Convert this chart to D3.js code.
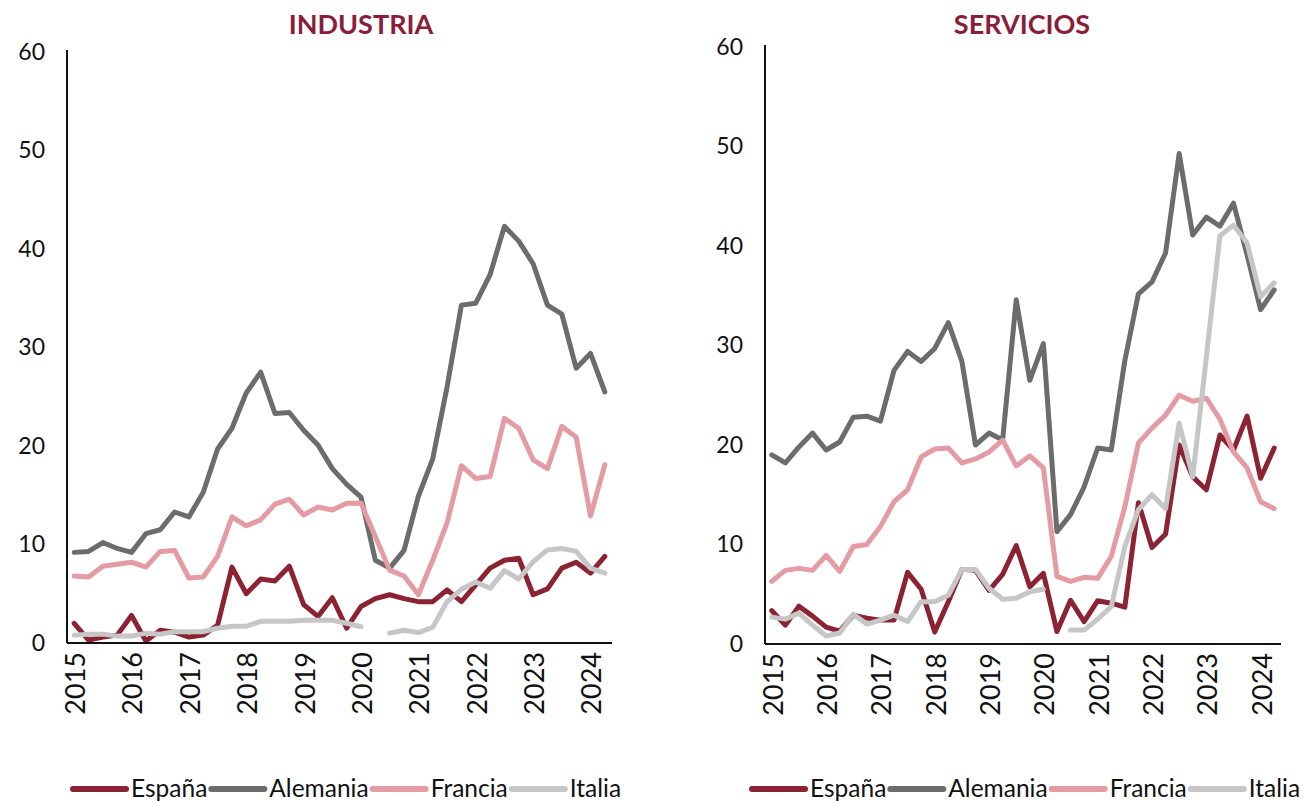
<!DOCTYPE html>
<html><head><meta charset="utf-8">
<script src="https://cdn.jsdelivr.net/npm/d3@7"></script>
<style>
body{margin:0;background:#fff;}
svg{display:block;font-family:Lato,"Open Sans",sans-serif;}
</style></head>
<body><svg id="c" width="1304" height="802"></svg>
<script>
const quarters = [];
for (let y = 2015; y <= 2024; y++) for (let q = 1; q <= 4; q++) { if (y === 2024 && q > 2) break; quarters.push(y + "Q" + q); }
const yearLabels = ["2015","2016","2017","2018","2019","2020","2021","2022","2023","2024"];
const yTicks = [0,10,20,30,40,50,60];
const countries = ["España","Alemania","Francia","Italia"];
const colors = ["#8B2332","#6B6C6B","#E59BA3","#C6C6C7"];

// INDUSTRIA
const indEspana = [2.0,0.3,0.6,0.8,2.8,0.2,1.3,1.1,0.6,0.8,1.8,7.7,5.0,6.5,6.3,7.8,3.9,2.7,4.6,1.5,3.7,4.5,4.9,4.5,4.2,4.2,5.4,4.2,5.9,7.6,8.4,8.6,4.9,5.5,7.6,8.2,7.1,8.8];
const indAlemania = [9.2,9.3,10.2,9.6,9.2,11.1,11.5,13.3,12.8,15.3,19.7,21.8,25.4,27.5,23.3,23.4,21.6,20.1,17.7,16.1,14.8,8.4,7.6,9.4,14.9,18.7,26.0,34.3,34.5,37.4,42.3,40.8,38.5,34.3,33.4,27.9,29.4,25.5];
const indFrancia = [6.8,6.7,7.8,8.0,8.2,7.7,9.3,9.4,6.6,6.7,8.8,12.8,11.9,12.5,14.1,14.6,13.0,13.8,13.5,14.2,14.2,10.8,7.4,6.8,4.9,8.4,12.2,18.0,16.7,16.9,22.8,21.8,18.6,17.7,22.0,20.9,12.9,18.1];
const indItalia = [0.8,0.9,0.9,0.7,0.7,1.0,0.9,1.15,1.15,1.15,1.5,1.7,1.7,2.2,2.2,2.2,2.3,2.3,2.3,2.0,1.65,null,1.0,1.3,1.05,1.6,4.2,5.45,6.2,5.55,7.35,6.5,8.25,9.45,9.6,9.3,7.6,7.1];

// SERVICIOS
const serEspana = [3.35,1.9,3.8,2.8,1.7,1.3,2.9,2.6,2.4,2.4,7.2,5.5,1.2,4.25,7.5,7.4,5.4,7.0,9.9,5.75,7.1,1.25,4.4,2.25,4.35,4.1,3.7,14.2,9.7,11.05,20.0,16.8,15.5,21.0,19.5,22.9,16.65,19.7];
const serAlemania = [19.0,18.2,19.8,21.2,19.5,20.3,22.8,22.9,22.4,27.5,29.4,28.4,29.7,32.3,28.4,20.0,21.2,20.5,34.6,26.5,30.2,11.3,13.0,15.8,19.7,19.5,28.5,35.2,36.4,39.3,49.3,41.1,42.9,42.0,44.3,39.1,33.6,35.6];
const serFrancia = [6.3,7.4,7.6,7.4,8.9,7.3,9.8,10.0,11.8,14.3,15.5,18.8,19.6,19.7,18.2,18.6,19.3,20.5,17.9,18.9,17.7,6.8,6.3,6.7,6.6,8.8,13.8,20.2,21.7,23.0,25.0,24.4,24.7,22.6,19.3,17.7,14.3,13.6];
const serItalia = [2.7,2.5,3.1,1.9,0.8,1.1,3.0,2.0,2.4,2.9,2.25,4.25,4.25,4.9,7.5,7.5,5.6,4.5,4.6,5.25,5.5,null,1.4,1.4,2.5,3.75,9.8,13.5,15.0,13.6,22.2,16.8,28.8,41.0,42.1,40.3,34.9,36.3];

const panels = [
  {title:"INDUSTRIA", series:[indEspana,indAlemania,indFrancia,indItalia], x0:67, x1:612, yTop:52, yBot:643, titleX:361, legendX:73},
  {title:"SERVICIOS", series:[serEspana,serAlemania,serFrancia,serItalia], x0:765, x1:1281, yTop:47, yBot:644, titleX:1022, legendX:752}
];

const svg = d3.select("#c");

panels.forEach(p => {
  const g = svg.append("g");
  const x = d3.scalePoint().domain(quarters).range([p.x0, p.x1]).padding(0.5);
  const y = d3.scaleLinear().domain([0,60]).range([p.yBot, p.yTop]);

  g.append("text").attr("x", p.titleX).attr("y", 34).attr("text-anchor","middle")
    .attr("font-size", 27).attr("font-weight", 700).attr("fill", "#8B1D3A").text(p.title);

  // y axis
  const ya = d3.axisLeft(y).tickValues(yTicks).tickSize(0).tickPadding(22).tickFormat(d3.format("d"));
  const yg = g.append("g").attr("transform", `translate(${p.x0},0)`).call(ya);
  yg.select(".domain").attr("stroke","#111").attr("stroke-width",2).attr("d", `M0,${p.yTop-2}V${p.yBot}`);
  yg.selectAll("text").attr("font-size",23).attr("fill","#111").attr("font-family","Lato, sans-serif");

  // lines
  p.series.forEach((vals, si) => {
    const line = d3.line().defined(d => d != null).x((d,i) => x(quarters[i])).y(d => y(d));
    g.append("path").datum(vals).attr("d", line).attr("fill","none")
      .attr("stroke", colors[si]).attr("stroke-width", 5).attr("stroke-linejoin","round").attr("stroke-linecap","round");
  });

  // x axis
  const xa = d3.axisBottom(x).tickValues(quarters.filter(q => q.endsWith("Q1"))).tickSize(0).tickFormat(q => q.slice(0,4));
  const xg = g.append("g").attr("transform", `translate(0,${p.yBot})`).call(xa);
  xg.select(".domain").attr("stroke","#111").attr("stroke-width",2).attr("d", `M${p.x0},0H${p.x1}`);
  xg.selectAll("text").attr("font-size",27).attr("fill","#111").attr("font-family","Lato, sans-serif")
    .attr("text-anchor","end").attr("transform","rotate(-90)").attr("x",-9).attr("y",1).attr("dy","0.35em");

  // legend
  let lx = p.legendX;
  const ly = 789;
  countries.forEach((c, i) => {
    g.append("line").attr("x1", lx).attr("x2", lx+53).attr("y1", ly).attr("y2", ly)
      .attr("stroke", colors[i]).attr("stroke-width", 6).attr("stroke-linecap","round");
    const t = g.append("text").attr("x", lx+58).attr("y", ly+8).attr("font-size", 24.5).attr("fill","#111").text(c);
    lx += 58 + t.node().getComputedTextLength() + 4;
  });
});
</script></body></html>
